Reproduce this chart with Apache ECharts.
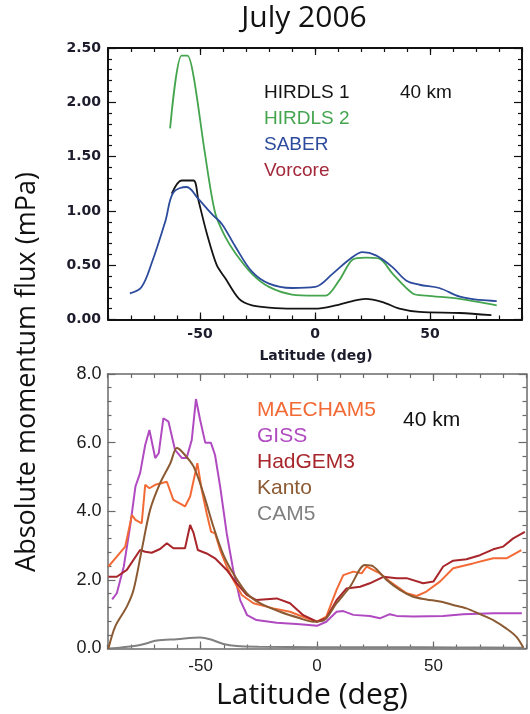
<!DOCTYPE html>
<html><head><meta charset="utf-8">
<script src="https://cdn.jsdelivr.net/npm/echarts@6/dist/echarts.min.js"></script>
<style>html,body{margin:0;padding:0;background:#fff}#c{width:530px;height:714px}</style>
</head><body><div id="c"></div>
<script>
// ---- Top panel data (observations) ----
const hirdls1Lat = [-62.3, -58, -52.8, -50.7, -47, -42.7, -39, -33, -27.4, -20, -10, 0, 9, 16.3, 22, 29.4, 36.7, 45.4, 63, 76.7];
const hirdls1Val = [1.16, 1.28, 1.28, 1.10, 0.79, 0.50, 0.38, 0.19, 0.13, 0.11, 0.10, 0.10, 0.13, 0.17, 0.19, 0.16, 0.10, 0.07, 0.06, 0.04];
const hirdls2Lat = [-63, -58, -55.5, -52.8, -48, -43.4, -39, -34.6, -27.4, -20, -10, 0, 4.7, 10.5, 16.3, 22, 28, 33.8, 42.5, 48.3, 63, 79];
const hirdls2Val = [1.76, 2.43, 2.43, 2.24, 1.55, 0.98, 0.76, 0.61, 0.42, 0.30, 0.23, 0.22, 0.22, 0.36, 0.55, 0.57, 0.56, 0.42, 0.24, 0.22, 0.19, 0.13];
const saberLat = [-80.5, -75.4, -71, -65, -61.6, -55.8, -50.7, -44.8, -40.5, -34.6, -27.4, -20, -10, 0, 7.6, 14.8, 20.7, 26.5, 33.8, 39.6, 45.4, 54, 63, 71.6, 79];
const saberVal = [0.24, 0.30, 0.52, 0.91, 1.17, 1.22, 1.11, 0.97, 0.88, 0.67, 0.44, 0.33, 0.29, 0.30, 0.42, 0.55, 0.62, 0.59, 0.48, 0.36, 0.32, 0.29, 0.21, 0.18, 0.17];

// ---- Bottom panel data (models) ----
const gissLat = [-88, -86, -83, -80.3, -78, -76, -73.8, -72, -69.5, -68, -66, -63.8, -61, -58, -56, -53.8, -52, -50.2, -48, -45.6, -43.8, -41.6, -38.8, -36, -33, -30, -26, -17.3, -7.3, 0, 4, 8.4, 11.3, 15.6, 22.7, 27, 31.3, 34.2, 41.3, 54.2, 62.8, 75.7, 88];
const gissVal = [1.43, 1.61, 2.39, 3.55, 4.72, 5.11, 5.93, 6.37, 5.55, 5.69, 6.71, 6.61, 5.79, 5.55, 5.55, 6.08, 7.27, 6.66, 6.0, 6.0, 5.64, 4.72, 3.36, 2.29, 1.41, 0.97, 0.83, 0.75, 0.71, 0.66, 0.78, 1.07, 1.09, 0.98, 0.95, 0.88, 1.0, 0.95, 0.93, 0.95, 1.0, 1.03, 1.03];
const maechamLat = [-89.6, -86, -82.4, -79.5, -78, -75.3, -73.8, -72, -69.5, -64.5, -61.7, -56.7, -54.5, -51.4, -49.5, -47.4, -45.5, -43.8, -41.6, -38.8, -36, -32.3, -27.3, -18.7, -11.6, -4.4, 0, 4, 8.4, 11.3, 15.6, 19.2, 21.3, 27, 31.3, 38.5, 42.8, 47, 52.8, 58.5, 67, 75.7, 81.4, 87.8];
const maechamVal = [2.39, 2.68, 2.97, 3.89, 3.75, 3.65, 4.77, 4.67, 4.77, 4.86, 4.33, 4.14, 4.43, 5.40, 4.62, 3.94, 3.40, 3.36, 2.87, 2.39, 2.0, 1.56, 1.32, 1.17, 1.07, 0.88, 0.78, 0.93, 1.71, 2.14, 2.24, 2.19, 2.39, 2.19, 1.95, 1.61, 1.53, 1.66, 1.95, 2.34, 2.48, 2.63, 2.63, 2.87];
const hadgemLat = [-89.6, -86, -81.7, -76, -73.8, -71, -67.4, -64.5, -61.7, -56.7, -54.5, -53, -51.2, -47.4, -43.8, -38.8, -34.5, -30.2, -26, -17.3, -11.6, -5.9, 0, 4, 8.4, 12.7, 18.5, 22.7, 28.5, 34.2, 38.5, 45.6, 50, 54.2, 58.5, 64.2, 70, 75.7, 80, 84.3, 89.3];
const hadgemVal = [2.09, 2.09, 2.29, 2.87, 2.82, 2.79, 2.90, 3.07, 2.92, 2.92, 3.60, 3.36, 2.87, 2.77, 2.63, 2.29, 1.90, 1.56, 1.41, 1.46, 1.32, 0.97, 0.78, 0.88, 1.41, 1.75, 1.80, 1.90, 2.09, 2.05, 2.05, 1.90, 1.95, 2.39, 2.56, 2.60, 2.72, 2.89, 2.97, 3.21, 3.40];
const kantoLat = [-89.6, -86.7, -81.7, -78.8, -75.3, -71.7, -67.4, -63, -60.2, -57.4, -53, -48.8, -44.5, -40.2, -36, -30.2, -24.5, -15.9, -7.3, -1.6, 2.7, 8.4, 14.2, 20.6, 24.2, 29.9, 35.6, 41.3, 47, 52.8, 58.5, 64.2, 70, 75.7, 81.4, 85.7, 88.6];
const kantoVal = [0, 0.64, 1.22, 1.71, 2.87, 4.04, 4.82, 5.40, 5.84, 5.69, 5.30, 4.52, 3.55, 2.73, 2.19, 1.61, 1.32, 1.07, 0.88, 0.78, 0.81, 1.32, 1.80, 2.43, 2.39, 2.0, 1.71, 1.51, 1.43, 1.37, 1.27, 1.17, 1.0, 0.83, 0.58, 0.34, 0.03];
const cam5Lat = [-89, -84, -76, -68.8, -60.2, -50.2, -46, -40.2, -34.5, -25, 0, 30, 60, 89];
const cam5Val = [0.0, 0.03, 0.1, 0.23, 0.27, 0.32, 0.27, 0.13, 0.07, 0.05, 0.04, 0.04, 0.03, 0.02];

// ---- Ticks / labels ----
const latTicks = [-50, 0, 50];
const topLegend = ['HIRDLS 1', 'HIRDLS 2', 'SABER', 'Vorcore'];
const botLegend = ['MAECHAM5', 'GISS', 'HadGEM3', 'Kanto', 'CAM5'];

const pairs = (xs, ys) => xs.map((x, i) => [x, ys[i]]);

function xAxes(gi, color, lw, lbl) {
  const base = {gridIndex: gi, type: 'value', min: -90, max: 90, interval: 10, splitLine: {show: false}};
  return [
    Object.assign({}, base, {position: 'bottom',
      axisLine: {show: true, onZero: false, lineStyle: {color: color, width: lw}},
      axisTick: {inside: true, length: 4, lineStyle: {color: color, width: 1.2}},
      axisLabel: Object.assign({formatter: v => (latTicks.indexOf(v) >= 0 ? String(v) : '')}, lbl)}),
    Object.assign({}, base, {position: 'bottom',
      axisLine: {show: false, onZero: false},
      axisTick: {inside: true, length: 7, customValues: latTicks, lineStyle: {color: color, width: 1.2}},
      axisLabel: {show: false}}),
    Object.assign({}, base, {position: 'top',
      axisLine: {show: true, onZero: false, lineStyle: {color: color, width: lw}},
      axisTick: {inside: true, length: 4, lineStyle: {color: color, width: 1.2}},
      axisLabel: {show: false}}),
    Object.assign({}, base, {position: 'top',
      axisLine: {show: false, onZero: false},
      axisTick: {inside: true, length: 7, customValues: latTicks, lineStyle: {color: color, width: 1.2}},
      axisLabel: {show: false}})
  ];
}
function yAxes(gi, max, interval, color, lw, lbl) {
  const base = {gridIndex: gi, type: 'value', min: 0, max: max, interval: interval, splitLine: {show: false},
    axisLine: {show: true, onZero: false, lineStyle: {color: color, width: lw}},
    axisTick: {inside: true, length: 8, lineStyle: {color: color, width: 1.2}},
    minorTick: {show: true, splitNumber: 5, length: 4, lineStyle: {color: color, width: 1.2}},
    minorSplitLine: {show: false}};
  return [
    Object.assign({}, base, {position: 'left', axisLabel: lbl}),
    Object.assign({}, base, {position: 'right', axisLabel: {show: false}})
  ];
}

const topLbl = {color: '#1c1c2c', fontFamily: 'DejaVu Sans', fontWeight: 'bold', fontSize: 14, margin: 8};
const botLbl = {color: '#1a1a1a', fontFamily: 'Liberation Sans', fontSize: 17, margin: 9};

const chart = echarts.init(document.getElementById('c'), null, {renderer: 'canvas'});
const xs = xAxes(0, '#111', 2, topLbl).concat(xAxes(1, '#6a6a6a', 1.5, botLbl));
const ys = yAxes(0, 2.5, 0.5, '#111', 2, Object.assign({}, topLbl, {formatter: v => v.toFixed(2), margin: 7}))
  .concat(yAxes(1, 8, 2, '#6a6a6a', 1.5, Object.assign({}, botLbl, {fontSize: 18, formatter: v => v.toFixed(1), margin: 6})));

function line(name, xsArr, ysArr, color, xi, yi, w, smooth) {
  return {name: name, type: 'line', xAxisIndex: xi, yAxisIndex: yi, data: pairs(xsArr, ysArr),
    showSymbol: false, symbol: 'none', smooth: smooth,
    lineStyle: {color: color, width: w}, itemStyle: {color: color}, animation: false};
}

const txt = (x, y, text, color, size, extra) => ({type: 'text', x: x, y: y, silent: true,
  style: Object.assign({text: text, fill: color, fontSize: size, fontFamily: 'Liberation Sans', textVerticalAlign: 'middle'}, extra || {})});

const topColors = ['#141414', '#45a54e', '#2c4b9c', '#a3283a'];
const botColors = ['#f26a35', '#b04ac0', '#a8262b', '#8b5a32', '#808080'];

const graphics = [
  txt(304, 18, 'July 2006', '#111', 30, {fontFamily: 'Open Sans', textAlign: 'center'}),
  {type: 'text', x: 27, y: 372, rotation: Math.PI / 2, silent: true,
    style: {text: 'Absolute momentum flux (mPa)', fill: '#111', fontSize: 27, fontFamily: 'Open Sans', textAlign: 'center', textVerticalAlign: 'middle'}},
  txt(316, 356, 'Latitude (deg)', '#1c1c2c', 14, {fontFamily: 'DejaVu Sans', fontWeight: 'bold', textAlign: 'center'}),
  txt(312, 695, 'Latitude (deg)', '#111', 30, {fontFamily: 'Open Sans', textAlign: 'center'}),
  txt(400, 93, '40 km', '#141414', 19),
  txt(403, 420, '40 km', '#111', 21)
];
topLegend.forEach((t, i) => graphics.push(txt(264, 93 + i * 26, t, topColors[i], 19)));
botLegend.forEach((t, i) => graphics.push(txt(257, 410 + i * 26, t, botColors[i], 21)));

chart.setOption({
  backgroundColor: '#fff',
  animation: false,
  grid: [
    {left: 108, top: 48, width: 414, height: 271.5},
    {left: 107.5, top: 374, width: 419, height: 274.5}
  ],
  xAxis: xs,
  yAxis: ys,
  series: [
    line('HIRDLS 1', hirdls1Lat, hirdls1Val, topColors[0], 0, 0, 1.8, 0.3),
    line('HIRDLS 2', hirdls2Lat, hirdls2Val, topColors[1], 0, 0, 1.8, 0.3),
    line('SABER', saberLat, saberVal, topColors[2], 0, 0, 1.8, 0.35),
    line('CAM5', cam5Lat, cam5Val, botColors[4], 4, 2, 2, 0.3),
    line('GISS', gissLat, gissVal, botColors[1], 4, 2, 2, false),
    line('MAECHAM5', maechamLat, maechamVal, botColors[0], 4, 2, 2, false),
    line('HadGEM3', hadgemLat, hadgemVal, botColors[2], 4, 2, 2, false),
    line('Kanto', kantoLat, kantoVal, botColors[3], 4, 2, 2, 0.3)
  ],
  graphic: graphics
});
</script></body></html>
